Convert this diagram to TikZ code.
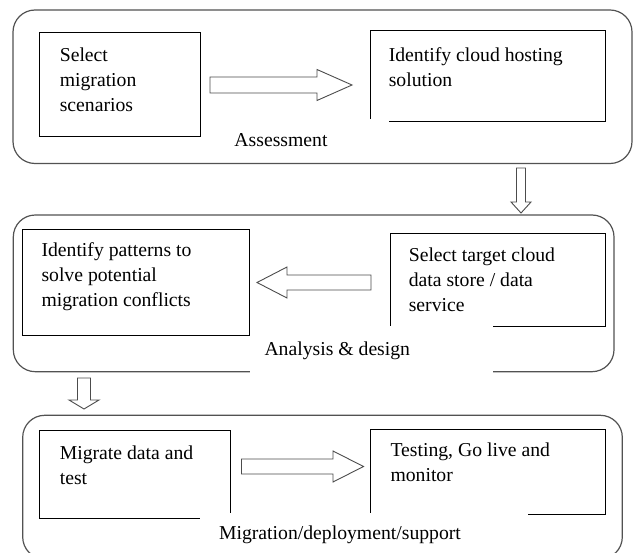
\documentclass[tikz,border=0pt]{standalone}
\usepackage{fontspec}
\setmainfont{Liberation Serif}
\newcommand\boxfont{\fontsize{19.7}{25}\selectfont}
\begin{document}
\begin{tikzpicture}[x=1pt,y=-1pt,
  inbox/.style={draw=black, line width=0.8pt, inner sep=0pt},
  outbox/.style={draw=black!68, line width=1.2pt, rounded corners=22pt, inner sep=0pt},
  txt/.style={anchor=north west, inner sep=0pt, align=left, font=\boxfont},
  lbl/.style={anchor=base, inner sep=0pt, font=\boxfont},
  blockarrow/.style={draw=black!70, line width=0.9pt, fill=white, line join=miter},
  mask/.style={fill=white}]
\useasboundingbox (0,0) rectangle (634,553);
\clip (0,0) rectangle (634,553);
% outer stages
\node[outbox, minimum width=619pt, minimum height=153.5pt] (o1) at (322.5,86.75) {};
\node[outbox, minimum width=600.7pt, minimum height=156.7pt] (o2) at (313.65,293.35) {};
\node[outbox, minimum width=599.6pt, minimum height=143.7pt] (o3) at (322.5,487.15) {};
% inner boxes
\node[inbox, minimum width=161pt, minimum height=104pt] (a) at (119.5,84) {};
\node[inbox, minimum width=235.7pt, minimum height=90.6pt] (b) at (487.85,76) {};
\node[inbox, minimum width=226.3pt, minimum height=106.4pt] (c) at (135.85,282.5) {};
\node[inbox, minimum width=215.7pt, minimum height=93.7pt] (d) at (497.85,279.85) {};
\node[inbox, minimum width=191pt, minimum height=88pt] (e) at (134.5,474.7) {};
\node[inbox, minimum width=235.7pt, minimum height=84.3pt] (f) at (487.85,471.85) {};
% white areas behind the stage labels
\fill[mask] (205,118.7) rectangle (389.4,161.6);
\fill[mask] (249.6,325.7) rectangle (493,374);
\fill[mask] (200.4,513) rectangle (528.3,553);
% box texts
\node[txt] (ta) at ([shift={(21,12.5)}]a.north west) {\strut Select\\migration\\scenarios};
\node[txt] (tb) at ([shift={(19,13.3)}]b.north west) {\strut Identify cloud hosting\\solution};
\node[txt] (tc) at ([shift={(19,10.2)}]c.north west) {\strut Identify patterns to\\solve potential\\migration conflicts};
\node[txt] (td) at ([shift={(19,11.2)}]d.north west) {\strut Select target cloud\\data store / data\\service};
\node[txt] (te) at ([shift={(21,11.5)}]e.north west) {\strut Migrate data and\\test};
\node[txt] (tf) at ([shift={(20.7,9.1)}]f.north west) {\strut Testing, Go live and\\monitor};
% stage labels
\node[lbl] (l1) at (281,146.7) {Assessment};
\node[lbl] (l2) at (337.3,355) {Analysis \& design};
\node[lbl] (l3) at (340,539.7) {Migration/deployment/support};
% block arrows
\draw[blockarrow] (210,77) -- (317,77) -- (317,69.5) -- (352,85) -- (317,100.5) -- (317,93) -- (210,93) -- cycle;
\draw[blockarrow] (516.5,168) -- (525.5,168) -- (525.5,202) -- (531,202) -- (521,213) -- (511,202) -- (516.5,202) -- cycle;
\draw[blockarrow] (371,275) -- (287,275) -- (287,267) -- (257,282.5) -- (287,298) -- (287,290) -- (371,290) -- cycle;
\draw[blockarrow] (77.5,378) -- (90.5,378) -- (90.5,400) -- (99,400) -- (84,409) -- (69,400) -- (77.5,400) -- cycle;
\draw[blockarrow] (241.5,459) -- (333,459) -- (333,451) -- (363.5,466.5) -- (333,482) -- (333,474) -- (241.5,474) -- cycle;
\end{tikzpicture}
\end{document}
